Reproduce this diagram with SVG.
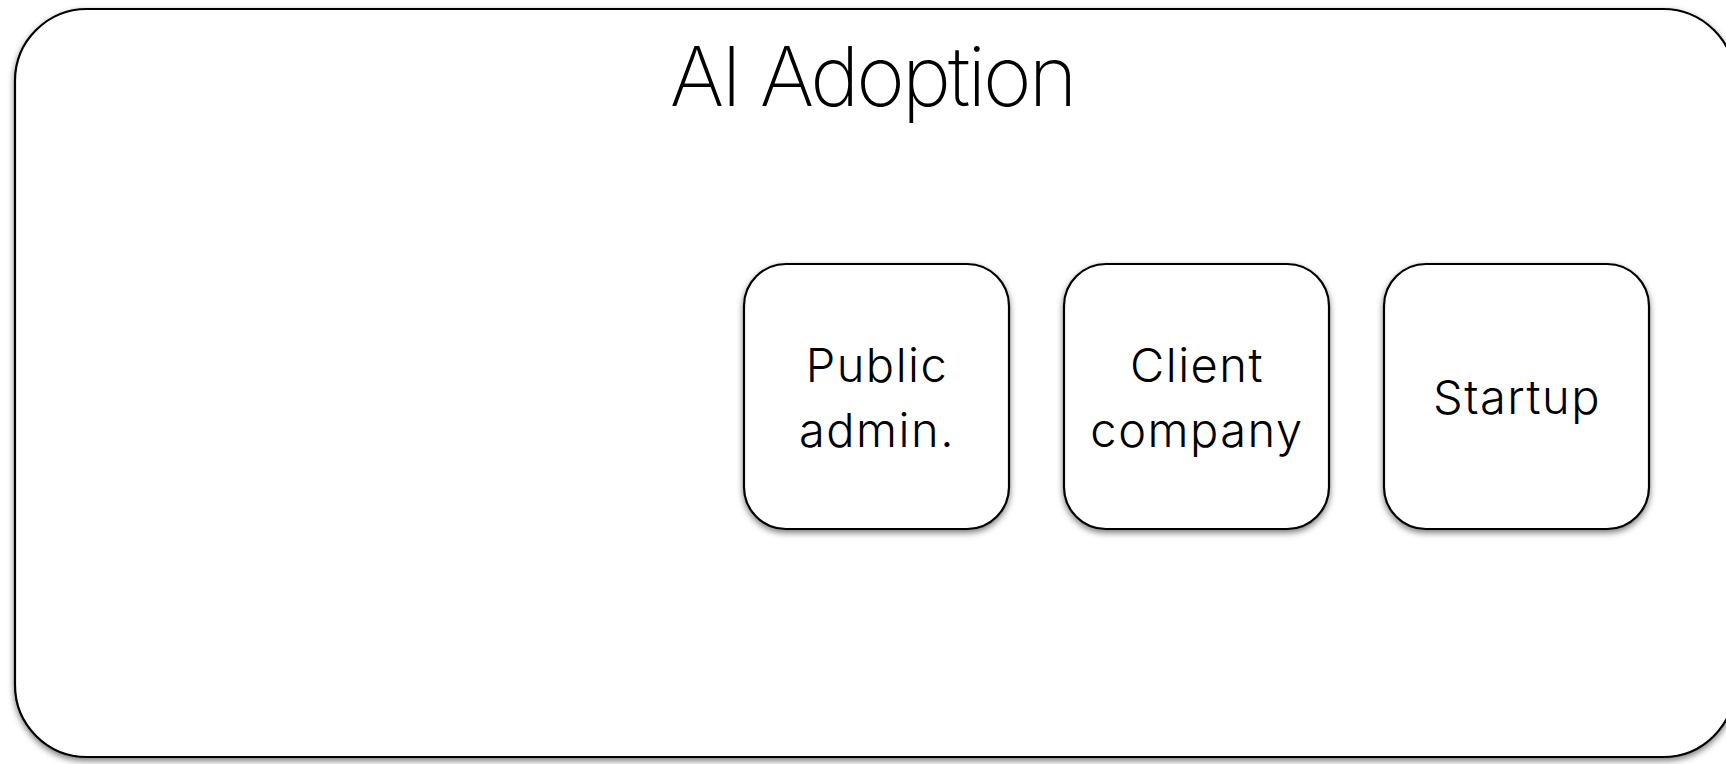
<svg xmlns="http://www.w3.org/2000/svg" width="1726" height="764" viewBox="0 0 1726 764">
<defs>
<filter id="sh" x="-10%" y="-10%" width="120%" height="125%">
<feDropShadow dx="0" dy="3" stdDeviation="3" flood-color="#000" flood-opacity="0.5"/>
</filter>
<style>
.frame{fill:#fff;stroke:#000;stroke-width:2.2;filter:url(#sh)}
.box{fill:#fff;stroke:#000;stroke-width:2.2;filter:url(#sh)}
.t{font-family:Inter,"Liberation Sans",Arial,sans-serif;text-anchor:middle;fill:#000}
.title{font-size:83px;font-weight:200;letter-spacing:-3px}
.lbl{font-size:47px;font-weight:300;letter-spacing:1.5px}
</style>
</defs>
<rect width="1726" height="764" fill="#fff"/>
<g id="frame">
<rect class="frame" x="15" y="9" width="1720" height="748" rx="72" ry="72"/>
<text class="t title" x="872" y="106">AI Adoption</text>
</g>
<g id="connectors"></g>
<g id="public-admin">
<rect class="box" x="744" y="264" width="265" height="265" rx="42" ry="42"/>
<text class="t lbl" x="877" y="382">Public</text>
<text class="t lbl" x="877" y="447">admin.</text>
</g>
<g id="client-company">
<rect class="box" x="1064" y="264" width="265" height="265" rx="42" ry="42"/>
<text class="t lbl" x="1197" y="382">Client</text>
<text class="t lbl" x="1197" y="447">company</text>
</g>
<g id="startup">
<rect class="box" x="1384" y="264" width="265" height="265" rx="42" ry="42"/>
<text class="t lbl" x="1517" y="414">Startup</text>
</g>
</svg>
